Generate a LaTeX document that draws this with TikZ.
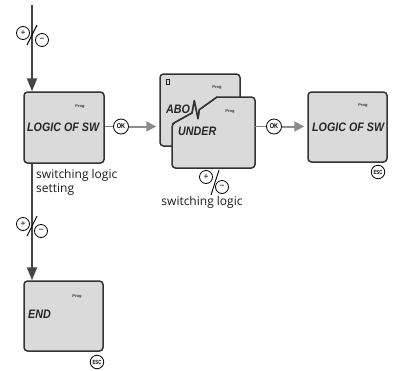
\documentclass[tikz,border=0pt]{standalone}
\usepackage{fontspec}
\setmainfont{Open Sans}
\newfontfamily\lcdfont{Liberation Sans}
\newfontfamily\keyfont{Liberation Sans}
\usetikzlibrary{arrows.meta}
\definecolor{lcdfill}{HTML}{DADADA}
\definecolor{frame}{HTML}{333333}
\definecolor{flow}{HTML}{454545}
\definecolor{gflow}{HTML}{8C8C8C}
\begin{document}
\begin{tikzpicture}[x=1pt,y=-1pt,
  lcd/.style={draw=frame, fill=lcdfill, line width=1.5pt, rounded corners=3.5pt, line join=round, inner sep=0pt},
  lcdtext/.style={font=\lcdfont\bfseries\itshape\fontsize{12.3}{12.3}\selectfont, inner sep=0pt, anchor=base west, text=black!85},
  progtext/.style={font=\keyfont\bfseries\fontsize{4}{4.5}\selectfont, inner sep=0pt, text=black!80},
  keycirc/.style={circle, draw=black, line width=0.8pt, fill=white, inner sep=0pt, minimum size=15pt, font=\keyfont\bfseries\fontsize{7}{7}\selectfont},
  esccirc/.style={keycirc, minimum size=13.5pt, font=\keyfont\bfseries\fontsize{6}{6}\selectfont},
  pmcirc/.style={circle, draw=black, line width=0.8pt, fill=white, inner sep=0pt, minimum size=13pt, font=\keyfont\fontsize{8.5}{8.5}\selectfont},
  pmslash/.style={draw=black, line width=0.9pt},
  mainflow/.style={draw=flow, line width=2pt, -{Triangle[length=13pt,width=10pt]}},
  okflow/.style={draw=gflow, line width=2pt, -{Triangle[length=10pt,width=10pt]}},
  okline/.style={draw=gray, line width=1pt},
  lbl/.style={font=\fontsize{12}{14}\selectfont, inner sep=0pt, text=black!90}
]
\useasboundingbox (0,0) rectangle (393,370);

% display boxes
\node[lcd, minimum width=80pt, minimum height=71pt] (b1) at (64,127.5) {};
\node[lcd, minimum width=80pt, minimum height=72pt] (back) at (200,110) {};
\draw[lcd] (172,124) [sharp corners] -- (192,113) -- (194.3,100.7) -- (198,118.7) -- (199.3,109.7) -- (217,97) [rounded corners=3.5pt] -- (255,97) -- (255,168) -- (172,168) -- cycle;
\coordinate (frontE) at (255,127);
\node[lcd, minimum width=79pt, minimum height=70pt] (b3) at (347.5,127) {};
\node[lcd, minimum width=79pt, minimum height=70pt] (endb) at (63.5,316) {};

% display contents
\node[progtext] (pg1) at (80,107) {Prog};
\node[lcdtext] (t1) at (27,131) {\scalebox{0.87}[1]{LOGIC OF SW}};
\node[draw=black!85, line width=0.8pt, minimum width=3.5pt, minimum height=5pt, inner sep=0pt] (icon) at (167.7,81.7) {};
\node[progtext] (pg2) at (217,88) {Prog};
\node[lcdtext] (t2) at (166,113) {\scalebox{0.87}[1]{ABO}};
\draw[lcd, fill=none, line width=1.3pt, sharp corners] (172,124) -- (192,113) -- (194.3,100.7) -- (198,118.7) -- (199.3,109.7) -- (217,97);
\node[progtext] (pg3) at (230,112) {Prog};
\node[lcdtext] (t3) at (178,135) {\scalebox{0.87}[1]{UNDER}};
\node[progtext] (pg4) at (363,106) {Prog};
\node[lcdtext] (t4) at (312,131) {\scalebox{0.87}[1]{LOGIC OF SW}};
\node[progtext] (pg5) at (77,297) {Prog};
\node[lcdtext] (t5) at (28,318) {\scalebox{0.87}[1]{END}};

% main flow
\coordinate (topstart) at (32,5);
\draw[mainflow] (topstart) -- (topstart |- b1.north);
\draw[mainflow] (topstart |- b1.south) -- (topstart |- endb.north);

% OK keys
\node[keycirc] (ok1) at (121,126.5) {\scalebox{0.8}[1]{OK}};
\draw[okline] (b1.east |- ok1) -- (ok1);
\draw[okflow] (ok1) -- ([xshift=-3pt]back.west |- ok1);
\node[keycirc] (ok2) at (274,126.5) {\scalebox{0.8}[1]{OK}};
\draw[okline] (frontE |- ok2) -- (ok2);
\draw[okflow] (ok2) -- ([xshift=-3pt]b3.west |- ok2);

% ESC keys
\node[esccirc] (esc1) at (378,172) {\scalebox{0.7}[1]{ESC}};
\node[esccirc] (esc2) at (97,362) {\scalebox{0.7}[1]{ESC}};

% plus / minus keys
\node[pmcirc] (p1) at (23,33) {+};
\node[pmcirc] (m1) at (42,40) {−};
\draw[pmslash] (27,45) -- (37,25);
\node[pmcirc] (p2) at (23,224) {+};
\node[pmcirc] (m2) at (41,231) {−};
\draw[pmslash] (27,236) -- (37,216);
\node[pmcirc] (p3) at (206,177) {+};
\node[pmcirc] (m3) at (222,187) {−};
\draw[pmslash] (211,195) -- (219,170);

% labels
\node[lbl, anchor=north west, align=left] (lab1) at (36,169) {switching logic\\setting};
\node[lbl, anchor=base] (lab2) at (202,205) {switching logic};
\end{tikzpicture}
\end{document}
